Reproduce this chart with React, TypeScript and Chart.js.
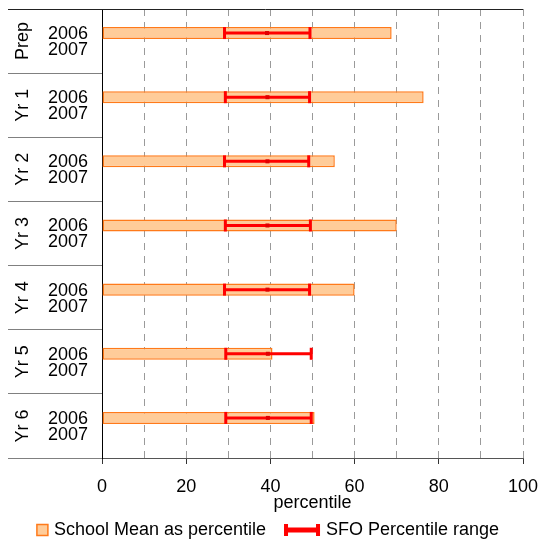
import React, { useEffect, useRef } from 'react';
import { Chart, registerables } from 'chart.js';

Chart.register(...registerables);

const groups = ['Prep', 'Yr 1', 'Yr 2', 'Yr 3', 'Yr 4', 'Yr 5', 'Yr 6'];
const yearLabels = ['2006', '2007'];
const schoolMean2006 = [68.8, 76.4, 55.3, 70.0, 60.0, 40.5, 50.5];
const schoolMean2007: (number | null)[] = [null, null, null, null, null, null, null];
const sfoLow = [29.1, 29.3, 29.1, 29.3, 29.1, 29.4, 29.4];
const sfoMid = [39.2, 39.3, 39.3, 39.3, 39.3, 39.4, 39.4];
const sfoHigh = [49.4, 49.3, 49.1, 49.5, 49.3, 49.7, 49.7];
const xTickLabels = [0, 20, 40, 60, 80, 100];
const legendLabels = ['School Mean as percentile', 'SFO Percentile range'];

const FONT = '"Liberation Sans", Arial, Helvetica, sans-serif';
const BAR_FILL = '#FFCC99';
const BAR_BORDER = '#FF7A1A';
const ERR = '#FF0000';

const errorBarPlugin = {
  id: 'errorBars',
  afterDatasetsDraw(chart: any) {
    const { ctx, scales } = chart;
    const xs = scales.x;
    const meta = chart.getDatasetMeta(0);
    ctx.save();
    meta.data.forEach((bar: any, i: number) => {
      const yc = bar.y;
      const x1 = xs.getPixelForValue(sfoLow[i]);
      const x2 = xs.getPixelForValue(sfoHigh[i]);
      const xm = xs.getPixelForValue(sfoMid[i]);
      ctx.strokeStyle = ERR;
      ctx.lineWidth = 3;
      ctx.beginPath();
      ctx.moveTo(x1, yc);
      ctx.lineTo(x2, yc);
      ctx.stroke();
      ctx.fillStyle = ERR;
      ctx.fillRect(x1 - 1.5, yc - 6, 3, 12);
      ctx.fillRect(x2 - 1.5, yc - 6, 3, 12);
      ctx.fillStyle = '#E00000';
      ctx.fillRect(xm - 2, yc - 2, 4, 4);
    });
    ctx.restore();
  },
};

const decorPlugin = {
  id: 'decor',
  afterDraw(chart: any) {
    const { ctx, chartArea, scales } = chart;
    const ys = scales.y;
    ctx.save();
    ctx.strokeStyle = '#222';
    ctx.lineWidth = 1;
    ctx.beginPath();
    ctx.moveTo(ys.left, Math.round(chartArea.top) + 0.5);
    ctx.lineTo(chartArea.right, Math.round(chartArea.top) + 0.5);
    ctx.stroke();

    ctx.font = `18px ${FONT}`;
    ctx.fillStyle = '#000';
    ctx.textAlign = 'center';
    ctx.textBaseline = 'middle';
    groups.forEach((g, i) => {
      const yc = ys.getPixelForValue(i);
      ctx.save();
      ctx.translate(ys.left + 15, yc);
      ctx.rotate(-Math.PI / 2);
      ctx.fillText(g, 0, 0);
      ctx.restore();
    });

    const ly = 530;
    ctx.textAlign = 'left';
    const w1 = ctx.measureText(legendLabels[0]).width;
    const w2 = ctx.measureText(legendLabels[1]).width;
    const total = 11 + 6 + w1 + 18 + 36 + 6 + w2;
    let lx = chart.width / 2 - 2 - total / 2;
    ctx.fillStyle = BAR_FILL;
    ctx.fillRect(lx, ly - 5.5, 11, 11);
    ctx.strokeStyle = BAR_BORDER;
    ctx.lineWidth = 1.5;
    ctx.strokeRect(lx, ly - 5.5, 11, 11);
    lx += 17;
    ctx.fillStyle = '#000';
    ctx.fillText(legendLabels[0], lx, ly);
    lx += w1 + 18;
    ctx.fillStyle = ERR;
    ctx.fillRect(lx, ly - 2.5, 36, 5);
    ctx.fillRect(lx, ly - 6, 4, 12);
    ctx.fillRect(lx + 32, ly - 6, 4, 12);
    lx += 42;
    ctx.fillStyle = '#000';
    ctx.fillText(legendLabels[1], lx, ly);
    ctx.restore();
  },
};

export default function App() {
  const canvasRef = useRef<HTMLCanvasElement | null>(null);

  useEffect(() => {
    if (!canvasRef.current) return;
    Chart.defaults.font.family = FONT;
    Chart.defaults.color = '#000';
    const chart = new Chart(canvasRef.current, {
      type: 'bar',
      data: {
        labels: groups,
        datasets: [
          {
            label: legendLabels[0],
            data: schoolMean2006,
            backgroundColor: BAR_FILL,
            borderColor: BAR_BORDER,
            borderWidth: 1.5,
            borderSkipped: false,
            barPercentage: 0.75,
            categoryPercentage: 0.5,
          },
          {
            label: '2007',
            data: schoolMean2007 as any,
            backgroundColor: BAR_FILL,
            borderColor: BAR_BORDER,
            borderWidth: 1.5,
            borderSkipped: false,
            barPercentage: 0.75,
            categoryPercentage: 0.5,
          },
        ],
      },
      options: {
        indexAxis: 'y',
        responsive: false,
        animation: false,
        devicePixelRatio: 1,
        layout: { padding: { left: 8, top: 9, right: 17, bottom: 28 } },
        plugins: {
          legend: { display: false },
          tooltip: { enabled: false },
        },
        scales: {
          x: {
            type: 'linear',
            min: 0,
            max: 100,
            afterFit: (s: any) => {
              s.height = 56;
              s.paddingLeft = 0;
              s.paddingRight = 0;
            },
            ticks: {
              stepSize: 10,
              autoSkip: false,
              maxRotation: 0,
              padding: 12,
              font: { size: 18 },
              color: '#000',
              callback: (v: any) => (xTickLabels.includes(Number(v)) ? String(v) : ''),
            },
            grid: {
              color: (c: any) => (c.tick && c.tick.value === 0 ? 'rgba(0,0,0,0)' : '#9a9a9a'),
              lineWidth: 1,
              drawTicks: true,
              tickLength: 6,
              tickColor: (c: any) =>
                c.tick && xTickLabels.includes(c.tick.value) ? '#333' : 'rgba(0,0,0,0)',
            },
            border: { display: true, color: '#555', width: 1, dash: [7, 6] },
            title: {
              display: true,
              text: 'percentile',
              font: { size: 18 },
              color: '#000',
              padding: 0,
            },
          },
          y: {
            type: 'category',
            position: 'left',
            offset: true,
            afterFit: (s: any) => {
              s.width = 94;
            },
            ticks: {
              autoSkip: false,
              callback: () => yearLabels,
              padding: -80,
              labelOffset: 1,
              font: { size: 18, lineHeight: '16px' },
              color: '#000',
            },
            grid: {
              offset: true,
              drawOnChartArea: false,
              drawTicks: true,
              tickLength: 94,
              tickColor: '#808080',
              color: '#808080',
            },
            border: { display: true, color: '#000', width: 1 },
          },
        },
      },
      plugins: [errorBarPlugin, decorPlugin],
    } as any);
    return () => chart.destroy();
  }, []);

  return (
    <div style={{ position: 'absolute', left: 0, top: 0, width: 540, height: 542, background: '#fff' }}>
      <canvas ref={canvasRef} width={540} height={542} style={{ display: 'block' }} />
    </div>
  );
}
